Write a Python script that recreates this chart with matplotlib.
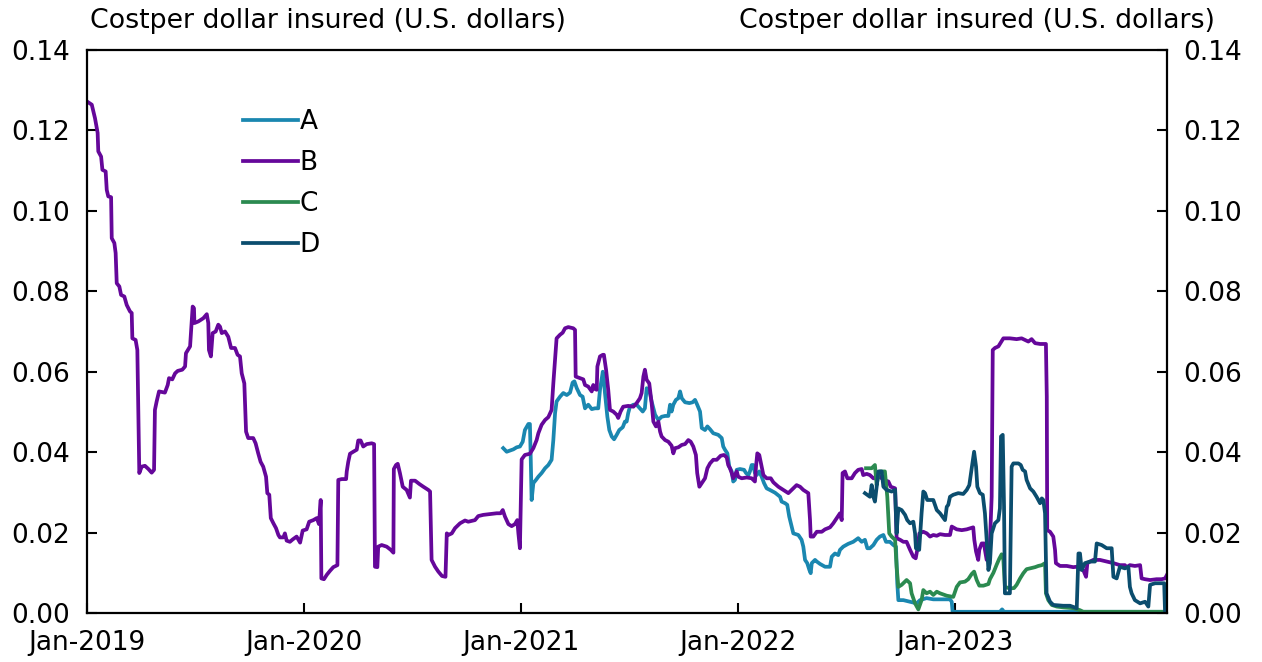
import matplotlib
matplotlib.use("Agg")
import matplotlib.pyplot as plt

# ---- data (time in decimal years, values in U.S. dollars per dollar insured) ----
B_t = [2019.000, 2019.022, 2019.037, 2019.049, 2019.052, 2019.065, 2019.071, 2019.086, 2019.091, 2019.098,
       2019.111, 2019.114, 2019.126, 2019.132, 2019.137, 2019.149, 2019.157, 2019.172, 2019.183, 2019.198,
       2019.206, 2019.209, 2019.224, 2019.232, 2019.241, 2019.252, 2019.267, 2019.283, 2019.298, 2019.309,
       2019.313, 2019.321, 2019.332, 2019.359, 2019.372, 2019.378, 2019.393, 2019.406, 2019.418, 2019.439,
       2019.452, 2019.456, 2019.475, 2019.482, 2019.487, 2019.493, 2019.495, 2019.513, 2019.536, 2019.552,
       2019.559, 2019.562, 2019.571, 2019.579, 2019.593, 2019.605, 2019.613, 2019.621, 2019.636, 2019.651,
       2019.664, 2019.682, 2019.694, 2019.705, 2019.713, 2019.725, 2019.733, 2019.743, 2019.766, 2019.777,
       2019.789, 2019.800, 2019.812, 2019.825, 2019.831, 2019.840, 2019.847, 2019.859, 2019.871, 2019.882,
       2019.889, 2019.905, 2019.912, 2019.920, 2019.935, 2019.948, 2019.966, 2019.982, 2019.994, 2020.012,
       2020.024, 2020.043, 2020.059, 2020.069, 2020.077, 2020.080, 2020.092, 2020.105, 2020.120, 2020.135,
       2020.154, 2020.158, 2020.174, 2020.194, 2020.197, 2020.204, 2020.212, 2020.227, 2020.243, 2020.250,
       2020.261, 2020.273, 2020.289, 2020.312, 2020.323, 2020.327, 2020.338, 2020.342, 2020.358, 2020.381,
       2020.400, 2020.412, 2020.414, 2020.424, 2020.432, 2020.442, 2020.455, 2020.473, 2020.488, 2020.493,
       2020.512, 2020.531, 2020.550, 2020.573, 2020.581, 2020.584, 2020.588, 2020.604, 2020.619, 2020.636,
       2020.652, 2020.658, 2020.665, 2020.681, 2020.696, 2020.719, 2020.742, 2020.757, 2020.788, 2020.803,
       2020.826, 2020.857, 2020.888, 2020.906, 2020.916, 2020.926, 2020.942, 2020.957, 2020.972, 2020.983,
       2020.988, 2020.995, 2021.003, 2021.018, 2021.041, 2021.057, 2021.072, 2021.080, 2021.095, 2021.111,
       2021.126, 2021.141, 2021.149, 2021.157, 2021.164, 2021.180, 2021.192, 2021.203, 2021.218, 2021.241,
       2021.249, 2021.252, 2021.272, 2021.287, 2021.295, 2021.310, 2021.326, 2021.333, 2021.341, 2021.349,
       2021.352, 2021.364, 2021.377, 2021.382, 2021.392, 2021.402, 2021.410, 2021.425, 2021.441, 2021.448,
       2021.459, 2021.471, 2021.494, 2021.518, 2021.533, 2021.548, 2021.556, 2021.564, 2021.571, 2021.579,
       2021.591, 2021.602, 2021.610, 2021.622, 2021.633, 2021.641, 2021.648, 2021.664, 2021.679, 2021.694,
       2021.702, 2021.710, 2021.725, 2021.741, 2021.756, 2021.771, 2021.782, 2021.794, 2021.806, 2021.812,
       2021.822, 2021.833, 2021.848, 2021.859, 2021.871, 2021.886, 2021.902, 2021.920, 2021.935, 2021.948,
       2021.955, 2021.963, 2021.971, 2021.978, 2021.986, 2021.994, 2022.001, 2022.017, 2022.040, 2022.063,
       2022.078, 2022.083, 2022.089, 2022.098, 2022.109, 2022.117, 2022.132, 2022.151, 2022.163, 2022.186,
       2022.209, 2022.232, 2022.247, 2022.270, 2022.286, 2022.301, 2022.324, 2022.332, 2022.335, 2022.347,
       2022.363, 2022.386, 2022.401, 2022.424, 2022.439, 2022.455, 2022.470, 2022.478, 2022.482, 2022.493,
       2022.504, 2022.524, 2022.539, 2022.554, 2022.570, 2022.577, 2022.593, 2022.608, 2022.624, 2022.639,
       2022.654, 2022.670, 2022.693, 2022.704, 2022.724, 2022.731, 2022.747, 2022.762, 2022.777, 2022.793,
       2022.808, 2022.819, 2022.826, 2022.836, 2022.854, 2022.870, 2022.885, 2022.900, 2022.916, 2022.931,
       2022.954, 2022.977, 2022.985, 2023.008, 2023.031, 2023.054, 2023.084, 2023.089, 2023.097, 2023.107,
       2023.112, 2023.123, 2023.134, 2023.138, 2023.146, 2023.158, 2023.169, 2023.174, 2023.184, 2023.200,
       2023.207, 2023.223, 2023.253, 2023.284, 2023.307, 2023.323, 2023.338, 2023.353, 2023.369, 2023.392,
       2023.419, 2023.423, 2023.425, 2023.438, 2023.453, 2023.461, 2023.465, 2023.484, 2023.515, 2023.545,
       2023.561, 2023.576, 2023.591, 2023.604, 2023.610, 2023.637, 2023.668, 2023.699, 2023.730, 2023.760,
       2023.783, 2023.791, 2023.806, 2023.829, 2023.853, 2023.860, 2023.876, 2023.899, 2023.929, 2023.952,
       2023.968, 2023.977]
B_v = [0.1272, 0.1264, 0.1230, 0.1194, 0.1148, 0.1135, 0.1102, 0.1098, 0.1052, 0.1036,
       0.1034, 0.0932, 0.0920, 0.0895, 0.0820, 0.0812, 0.0791, 0.0787, 0.0766, 0.0750,
       0.0746, 0.0683, 0.0679, 0.0654, 0.0348, 0.0364, 0.0366, 0.0358, 0.0349, 0.0356,
       0.0505, 0.0526, 0.0551, 0.0548, 0.0567, 0.0584, 0.0581, 0.0596, 0.0602, 0.0605,
       0.0613, 0.0646, 0.0663, 0.0721, 0.0762, 0.0758, 0.0721, 0.0725, 0.0733, 0.0743,
       0.0721, 0.0654, 0.0638, 0.0696, 0.0700, 0.0717, 0.0712, 0.0696, 0.0700, 0.0687,
       0.0659, 0.0659, 0.0642, 0.0638, 0.0596, 0.0571, 0.0451, 0.0435, 0.0435, 0.0422,
       0.0397, 0.0376, 0.0364, 0.0339, 0.0298, 0.0294, 0.0236, 0.0223, 0.0211, 0.0194,
       0.0188, 0.0188, 0.0198, 0.0180, 0.0177, 0.0183, 0.0190, 0.0175, 0.0205, 0.0208,
       0.0227, 0.0231, 0.0236, 0.0221, 0.0281, 0.0086, 0.0084, 0.0095, 0.0105, 0.0114,
       0.0119, 0.0331, 0.0333, 0.0333, 0.0352, 0.0376, 0.0396, 0.0401, 0.0406, 0.0429,
       0.0429, 0.0414, 0.0420, 0.0422, 0.0420, 0.0115, 0.0114, 0.0165, 0.0169, 0.0165,
       0.0157, 0.0150, 0.0358, 0.0368, 0.0371, 0.0348, 0.0314, 0.0306, 0.0287, 0.0329,
       0.0329, 0.0321, 0.0314, 0.0306, 0.0302, 0.0231, 0.0132, 0.0115, 0.0103, 0.0092,
       0.0090, 0.0198, 0.0194, 0.0198, 0.0211, 0.0223, 0.0230, 0.0227, 0.0231, 0.0241,
       0.0244, 0.0246, 0.0248, 0.0248, 0.0256, 0.0240, 0.0221, 0.0216, 0.0221, 0.0231,
       0.0198, 0.0161, 0.0382, 0.0393, 0.0396, 0.0410, 0.0430, 0.0447, 0.0468, 0.0480,
       0.0487, 0.0505, 0.0571, 0.0629, 0.0683, 0.0692, 0.0697, 0.0708, 0.0711, 0.0708,
       0.0704, 0.0588, 0.0584, 0.0581, 0.0567, 0.0563, 0.0551, 0.0567, 0.0557, 0.0555,
       0.0613, 0.0638, 0.0642, 0.0642, 0.0605, 0.0555, 0.0505, 0.0501, 0.0493, 0.0485,
       0.0501, 0.0513, 0.0515, 0.0513, 0.0522, 0.0534, 0.0547, 0.0588, 0.0605, 0.0580,
       0.0571, 0.0522, 0.0476, 0.0464, 0.0476, 0.0451, 0.0439, 0.0430, 0.0426, 0.0416,
       0.0397, 0.0410, 0.0412, 0.0418, 0.0420, 0.0430, 0.0426, 0.0414, 0.0393, 0.0348,
       0.0314, 0.0323, 0.0335, 0.0360, 0.0372, 0.0381, 0.0381, 0.0391, 0.0393, 0.0387,
       0.0368, 0.0360, 0.0348, 0.0335, 0.0343, 0.0352, 0.0339, 0.0335, 0.0337, 0.0335,
       0.0327, 0.0364, 0.0397, 0.0393, 0.0364, 0.0343, 0.0335, 0.0335, 0.0325, 0.0314,
       0.0306, 0.0298, 0.0306, 0.0318, 0.0314, 0.0306, 0.0298, 0.0231, 0.0190, 0.0190,
       0.0202, 0.0202, 0.0208, 0.0213, 0.0223, 0.0236, 0.0248, 0.0231, 0.0348, 0.0352,
       0.0335, 0.0335, 0.0348, 0.0356, 0.0358, 0.0343, 0.0346, 0.0343, 0.0335, 0.0335,
       0.0339, 0.0331, 0.0327, 0.0314, 0.0310, 0.0186, 0.0182, 0.0177, 0.0177, 0.0157,
       0.0140, 0.0136, 0.0157, 0.0198, 0.0202, 0.0198, 0.0190, 0.0194, 0.0192, 0.0196,
       0.0194, 0.0194, 0.0215, 0.0208, 0.0206, 0.0208, 0.0213, 0.0182, 0.0153, 0.0132,
       0.0157, 0.0173, 0.0173, 0.0157, 0.0132, 0.0132, 0.0289, 0.0654, 0.0659, 0.0663,
       0.0669, 0.0683, 0.0683, 0.0681, 0.0683, 0.0679, 0.0675, 0.0681, 0.0671, 0.0669,
       0.0669, 0.0538, 0.0206, 0.0202, 0.0190, 0.0157, 0.0124, 0.0117, 0.0117, 0.0114,
       0.0115, 0.0109, 0.0107, 0.0090, 0.0124, 0.0132, 0.0132, 0.0128, 0.0124, 0.0119,
       0.0119, 0.0114, 0.0119, 0.0117, 0.0119, 0.0086, 0.0084, 0.0082, 0.0084, 0.0084,
       0.0086, 0.0095]

A_t = [2020.918, 2020.934, 2020.949, 2020.965, 2020.980, 2020.995, 2021.008, 2021.018, 2021.034, 2021.041,
       2021.044, 2021.049, 2021.057, 2021.069, 2021.080, 2021.095, 2021.111, 2021.126, 2021.141, 2021.149,
       2021.157, 2021.164, 2021.180, 2021.195, 2021.211, 2021.226, 2021.238, 2021.246, 2021.257, 2021.272,
       2021.284, 2021.295, 2021.310, 2021.326, 2021.341, 2021.356, 2021.364, 2021.377, 2021.382, 2021.387,
       2021.398, 2021.407, 2021.418, 2021.429, 2021.441, 2021.453, 2021.469, 2021.479, 2021.487, 2021.494,
       2021.502, 2021.518, 2021.533, 2021.548, 2021.561, 2021.571, 2021.579, 2021.591, 2021.602, 2021.618,
       2021.633, 2021.648, 2021.664, 2021.679, 2021.687, 2021.694, 2021.702, 2021.714, 2021.725, 2021.733,
       2021.741, 2021.756, 2021.776, 2021.791, 2021.802, 2021.812, 2021.825, 2021.833, 2021.848, 2021.859,
       2021.871, 2021.886, 2021.909, 2021.925, 2021.932, 2021.940, 2021.951, 2021.960, 2021.971, 2021.978,
       2021.986, 2021.994, 2022.009, 2022.028, 2022.037, 2022.048, 2022.055, 2022.063, 2022.071, 2022.078,
       2022.086, 2022.098, 2022.109, 2022.120, 2022.132, 2022.147, 2022.171, 2022.194, 2022.201, 2022.217,
       2022.227, 2022.236, 2022.247, 2022.255, 2022.278, 2022.293, 2022.301, 2022.309, 2022.319, 2022.329,
       2022.335, 2022.340, 2022.355, 2022.363, 2022.378, 2022.401, 2022.424, 2022.432, 2022.447, 2022.462,
       2022.470, 2022.485, 2022.508, 2022.531, 2022.554, 2022.570, 2022.585, 2022.596, 2022.608, 2022.624,
       2022.639, 2022.654, 2022.670, 2022.682, 2022.700, 2022.716, 2022.728, 2022.734, 2022.739, 2022.762,
       2022.793, 2022.823, 2022.839, 2022.869, 2022.900, 2022.931, 2022.977, 2022.985, 2022.989, 2023.207,
       2023.217, 2023.226, 2023.977]
A_v = [0.0410, 0.0401, 0.0404, 0.0407, 0.0412, 0.0414, 0.0426, 0.0455, 0.0470, 0.0470,
       0.0406, 0.0281, 0.0323, 0.0331, 0.0339, 0.0348, 0.0360, 0.0368, 0.0381, 0.0430,
       0.0497, 0.0526, 0.0538, 0.0547, 0.0542, 0.0548, 0.0573, 0.0576, 0.0559, 0.0542,
       0.0538, 0.0509, 0.0518, 0.0507, 0.0509, 0.0509, 0.0555, 0.0600, 0.0580, 0.0547,
       0.0488, 0.0455, 0.0439, 0.0432, 0.0443, 0.0455, 0.0462, 0.0476, 0.0476, 0.0497,
       0.0513, 0.0518, 0.0518, 0.0509, 0.0501, 0.0509, 0.0559, 0.0555, 0.0526, 0.0493,
       0.0480, 0.0488, 0.0490, 0.0490, 0.0518, 0.0501, 0.0518, 0.0530, 0.0534, 0.0551,
       0.0534, 0.0524, 0.0522, 0.0524, 0.0530, 0.0518, 0.0501, 0.0460, 0.0455, 0.0464,
       0.0457, 0.0447, 0.0443, 0.0435, 0.0414, 0.0406, 0.0397, 0.0364, 0.0352, 0.0327,
       0.0331, 0.0356, 0.0358, 0.0356, 0.0348, 0.0343, 0.0352, 0.0368, 0.0368, 0.0348,
       0.0343, 0.0352, 0.0339, 0.0323, 0.0310, 0.0306, 0.0299, 0.0289, 0.0277, 0.0273,
       0.0269, 0.0240, 0.0215, 0.0198, 0.0194, 0.0182, 0.0165, 0.0132, 0.0124, 0.0107,
       0.0099, 0.0124, 0.0132, 0.0128, 0.0122, 0.0115, 0.0115, 0.0140, 0.0148, 0.0144,
       0.0157, 0.0165, 0.0172, 0.0177, 0.0186, 0.0177, 0.0182, 0.0161, 0.0161, 0.0169,
       0.0182, 0.0190, 0.0194, 0.0177, 0.0177, 0.0169, 0.0165, 0.0074, 0.0032, 0.0032,
       0.0028, 0.0024, 0.0032, 0.0037, 0.0034, 0.0034, 0.0034, 0.0028, 0.0003, 0.0003,
       0.0009, 0.0003, 0.0003]

C_t = [2022.590, 2022.616, 2022.631, 2022.639, 2022.647, 2022.654, 2022.677, 2022.688, 2022.697, 2022.708,
       2022.724, 2022.731, 2022.739, 2022.754, 2022.777, 2022.793, 2022.800, 2022.816, 2022.831, 2022.846,
       2022.854, 2022.869, 2022.885, 2022.900, 2022.916, 2022.931, 2022.962, 2022.992, 2023.008, 2023.023,
       2023.046, 2023.061, 2023.077, 2023.088, 2023.100, 2023.112, 2023.131, 2023.154, 2023.161, 2023.177,
       2023.192, 2023.204, 2023.215, 2023.223, 2023.230, 2023.253, 2023.272, 2023.284, 2023.300, 2023.315,
       2023.330, 2023.346, 2023.369, 2023.384, 2023.400, 2023.415, 2023.419, 2023.430, 2023.446, 2023.469,
       2023.499, 2023.545, 2023.576, 2023.591, 2023.968, 2023.977]
C_v = [0.0360, 0.0360, 0.0368, 0.0318, 0.0343, 0.0352, 0.0352, 0.0289, 0.0198, 0.0190,
       0.0182, 0.0115, 0.0065, 0.0070, 0.0082, 0.0074, 0.0049, 0.0024, 0.0009, 0.0032,
       0.0057, 0.0049, 0.0053, 0.0045, 0.0053, 0.0049, 0.0043, 0.0040, 0.0065, 0.0076,
       0.0078, 0.0084, 0.0097, 0.0103, 0.0082, 0.0068, 0.0068, 0.0072, 0.0084, 0.0100,
       0.0120, 0.0135, 0.0146, 0.0132, 0.0065, 0.0061, 0.0062, 0.0070, 0.0086, 0.0099,
       0.0109, 0.0111, 0.0114, 0.0117, 0.0119, 0.0124, 0.0049, 0.0032, 0.0020, 0.0016,
       0.0014, 0.0012, 0.0007, 0.0003, 0.0003, 0.0010]

D_t = [2022.585, 2022.608, 2022.616, 2022.624, 2022.631, 2022.639, 2022.647, 2022.662, 2022.670, 2022.685,
       2022.708, 2022.724, 2022.731, 2022.739, 2022.754, 2022.770, 2022.780, 2022.793, 2022.808, 2022.816,
       2022.820, 2022.835, 2022.846, 2022.854, 2022.862, 2022.872, 2022.900, 2022.916, 2022.931, 2022.954,
       2022.962, 2022.969, 2022.977, 2022.992, 2023.015, 2023.038, 2023.054, 2023.066, 2023.077, 2023.088,
       2023.097, 2023.103, 2023.115, 2023.128, 2023.138, 2023.146, 2023.154, 2023.161, 2023.169, 2023.184,
       2023.200, 2023.207, 2023.212, 2023.220, 2023.226, 2023.230, 2023.253, 2023.261, 2023.269, 2023.292,
       2023.303, 2023.312, 2023.323, 2023.330, 2023.346, 2023.361, 2023.376, 2023.392, 2023.400, 2023.407,
       2023.415, 2023.422, 2023.438, 2023.453, 2023.499, 2023.530, 2023.561, 2023.569, 2023.576, 2023.584,
       2023.599, 2023.622, 2023.645, 2023.653, 2023.676, 2023.699, 2023.722, 2023.730, 2023.745, 2023.760,
       2023.783, 2023.799, 2023.806, 2023.814, 2023.829, 2023.853, 2023.876, 2023.891, 2023.899, 2023.922,
       2023.964, 2023.968, 2023.977]
D_v = [0.0298, 0.0289, 0.0318, 0.0289, 0.0277, 0.0314, 0.0352, 0.0352, 0.0314, 0.0306,
       0.0302, 0.0306, 0.0198, 0.0260, 0.0256, 0.0244, 0.0231, 0.0223, 0.0227, 0.0198,
       0.0161, 0.0157, 0.0248, 0.0302, 0.0298, 0.0281, 0.0281, 0.0256, 0.0248, 0.0231,
       0.0264, 0.0269, 0.0289, 0.0294, 0.0298, 0.0296, 0.0306, 0.0318, 0.0360, 0.0401,
       0.0364, 0.0314, 0.0298, 0.0294, 0.0248, 0.0182, 0.0107, 0.0124, 0.0198, 0.0223,
       0.0231, 0.0260, 0.0439, 0.0443, 0.0264, 0.0049, 0.0049, 0.0364, 0.0372, 0.0372,
       0.0368, 0.0356, 0.0352, 0.0331, 0.0310, 0.0302, 0.0289, 0.0273, 0.0285, 0.0281,
       0.0248, 0.0049, 0.0028, 0.0020, 0.0018, 0.0018, 0.0012, 0.0148, 0.0148, 0.0107,
       0.0124, 0.0128, 0.0128, 0.0173, 0.0169, 0.0161, 0.0161, 0.0090, 0.0086, 0.0115,
       0.0111, 0.0115, 0.0065, 0.0049, 0.0032, 0.0024, 0.0028, 0.0016, 0.0070, 0.0074,
       0.0074, 0.0003, 0.0003]

series_names = ["A", "B", "C", "D"]
series_colors = ["#1a87b0", "#65079a", "#2b8a50", "#0b4d6e"]

x_ticks = [2019, 2020, 2021, 2022, 2023]
x_tick_labels = ["Jan-2019", "Jan-2020", "Jan-2021", "Jan-2022", "Jan-2023"]
y_ticks = [0.00, 0.02, 0.04, 0.06, 0.08, 0.10, 0.12, 0.14]
axis_title = "Costper dollar insured (U.S. dollars)"

# ---- figure ----
FS = 19
fig = plt.figure(figsize=(12.62, 6.62), dpi=100)
ax = fig.add_axes([87 / 1262, 49 / 662, 1080 / 1262, 563 / 662])

data = [(A_t, A_v), (B_t, B_v), (C_t, C_v), (D_t, D_v)]
for (t, v), name, col in zip(data, series_names, series_colors):
    ax.plot(t, v, color=col, lw=2.7, label=name, solid_joinstyle="round")

ax.set_xlim(2019.0, 2023.977)
ax.set_ylim(0, 0.14)
ax.set_xticks(x_ticks)
ax.set_xticklabels(x_tick_labels)
ax.set_yticks(y_ticks)
ax.set_yticklabels([f"{v:.2f}" for v in y_ticks])

ax.tick_params(axis="both", direction="in", length=7, width=1.5, labelsize=FS, colors="black")
ax.tick_params(axis="y", left=True, right=True, labelleft=True, labelright=True, pad=12)
ax.tick_params(axis="x", top=False, pad=12)
for s in ax.spines.values():
    s.set_linewidth(1.6)
    s.set_color("black")

fig.text(90 / 1262, 1 - 21 / 662, axis_title, fontsize=19.3, ha="left", va="center")
fig.text(1215 / 1262, 1 - 21 / 662, axis_title, fontsize=19.3, ha="right", va="center")

leg = ax.legend(loc="upper left", bbox_to_anchor=((243 - 87) / 1080, 1 - (109 - 50) / 563),
                frameon=False, fontsize=FS, handlelength=2.1, handletextpad=0.05,
                labelspacing=0.57, borderpad=0, borderaxespad=0)
for h in leg.get_lines():
    h.set_linewidth(2.7)

fig.savefig("out.png", dpi=100)
